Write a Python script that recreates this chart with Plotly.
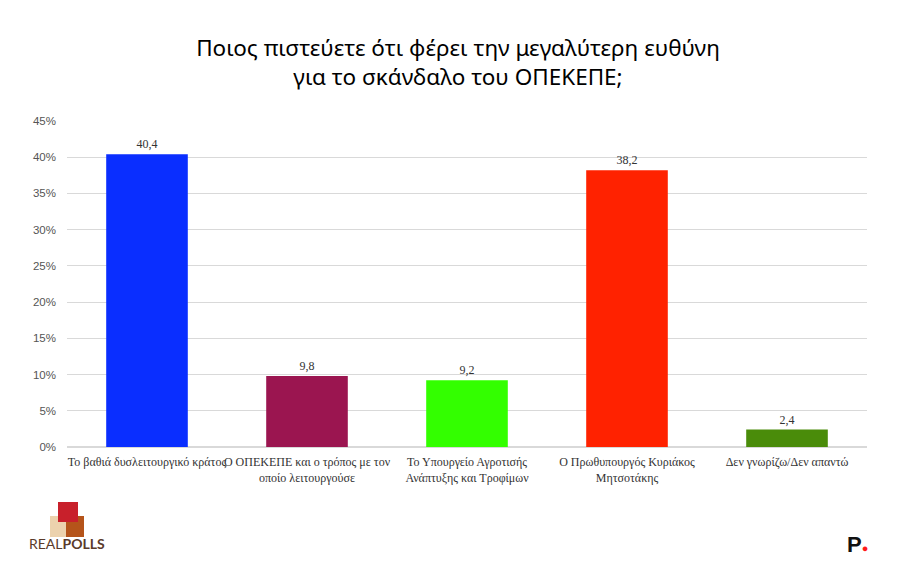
import plotly.graph_objects as go

categories = ["Το βαθιά δυσλειτουργικό κράτος",
              "Ο ΟΠΕΚΕΠΕ και ο τρόπος με τον<br>οποίο λειτουργούσε",
              "Το Υπουργείο Αγροτισής<br>Ανάπτυξης και Τροφίμων",
              "Ο Πρωθυπουργός Κυριάκος<br>Μητσοτάκης",
              "Δεν γνωρίζω/Δεν απαντώ"]
values = [40.4, 9.8, 9.2, 38.2, 2.4]
colors = ["#0a2eff", "#9b1550", "#33ff00", "#ff2200", "#4a8c0a"]
tick_vals = [0, 5, 10, 15, 20, 25, 30, 35, 40, 45]
tick_text = [f"{t}%" for t in tick_vals]
labels = [f"{v:.1f}".replace(".", ",") for v in values]

fig = go.Figure(go.Bar(
    x=categories, y=values, marker_color=colors, marker_line_width=0,
    text=labels, textposition="outside", cliponaxis=False,
    textfont=dict(family="Liberation Serif", size=12, color="#333333"),
))

fig.update_layout(
    width=900, height=573,
    paper_bgcolor="white", plot_bgcolor="white",
    margin=dict(l=59, r=41, t=113, b=134),
    bargap=0.49,
    showlegend=False,
    title=dict(text="Ποιος πιστεύετε ότι φέρει την μεγαλύτερη ευθύνη<br>για το σκάνδαλο του ΟΠΕΚΕΠΕ;",
               x=0.5, xanchor="center", y=0.916, yanchor="top",
               font=dict(family="Noto Sans", size=22.5, color="#000000")),
    xaxis=dict(tickfont=dict(family="Liberation Serif", size=12, color="#333333"),
               showline=False, ticks="", tickangle=0, ticklabelstandoff=6),
    yaxis=dict(range=[0, 45], tickvals=tick_vals, ticktext=tick_text,
               tickfont=dict(family="Liberation Sans", size=11.5, color="#555555"),
               showgrid=True, gridcolor="#d9d9d9", gridwidth=1,
               zeroline=True, zerolinecolor="#d9d9d9", ticks="", ticklabelstandoff=10),
)

# RealPolls logo
fig.add_shape(type="rect", xref="paper", yref="paper", x0=-0.02125, x1=0.00125, y0=-0.2761, y1=-0.2117,
              fillcolor="#ecd2ad", line_width=0)
fig.add_shape(type="rect", xref="paper", yref="paper", x0=-0.00125, x1=0.02125, y0=-0.2761, y1=-0.2117,
              fillcolor="#b5541a", line_width=0)
fig.add_shape(type="rect", xref="paper", yref="paper", x0=-0.01125, x1=0.01375, y0=-0.2301, y1=-0.1687,
              fillcolor="#c8202b", line_width=0)
fig.add_annotation(xref="paper", yref="paper", x=0.0, y=-0.2975, xanchor="center", yanchor="middle",
                   text="REAL<b>POLLS</b>", showarrow=False,
                   font=dict(family="Lato", size=14, color="#5a3a2a"))
# P. logo
fig.add_annotation(xref="paper", yref="paper", x=0.9875, y=-0.30, xanchor="center", yanchor="middle",
                   text="<b>P</b><span style='color:#ff1a1a;font-size:11px'>●</span>", showarrow=False,
                   font=dict(family="Liberation Sans", size=22, color="#111111"))

fig.write_html("out.html")
